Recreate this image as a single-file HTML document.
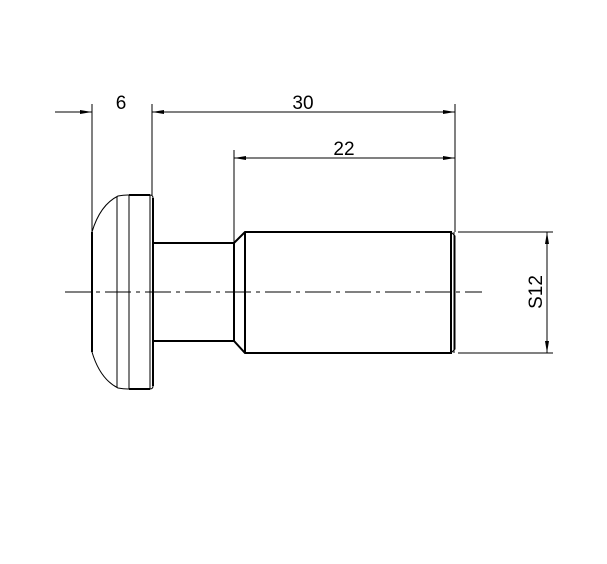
<!DOCTYPE html><html><head><style>body{margin:0;background:#fff}</style></head><body>
<svg width="607" height="559" viewBox="0 0 607 559" xmlns="http://www.w3.org/2000/svg" font-family="Liberation Sans, sans-serif">
<defs><marker id="a" viewBox="0 0 12 4" refX="12" refY="2" markerWidth="12" markerHeight="4" orient="auto-start-reverse" markerUnits="userSpaceOnUse"><path d="M0,0L12,2L0,4z" fill="#000"/></marker></defs>
<g stroke="#000" fill="none">
<!-- extension lines -->
<g stroke-width="1">
<line x1="92" y1="104" x2="92" y2="232"/>
<line x1="152" y1="104" x2="152" y2="195"/>
<line x1="234" y1="150" x2="234" y2="243"/>
<line x1="455" y1="104" x2="455" y2="232"/>
<line x1="458" y1="232" x2="553" y2="232"/>
<line x1="458" y1="353" x2="553" y2="353"/>
<!-- dims -->
<line x1="55" y1="112" x2="92" y2="112" marker-end="url(#a)"/>
<line x1="152" y1="112" x2="172" y2="112" marker-start="url(#a)"/>
<line x1="152" y1="112" x2="455" y2="112" marker-end="url(#a)"/>
<line x1="234" y1="158" x2="455" y2="158" marker-start="url(#a)" marker-end="url(#a)"/>
<line x1="547" y1="232" x2="547" y2="353" marker-start="url(#a)" marker-end="url(#a)"/>
<!-- centre line -->
<line x1="65" y1="292" x2="482" y2="292" stroke-dasharray="26,5,4,5"/>
<!-- head inner lines -->
<line x1="117" y1="197" x2="117" y2="387"/>
<line x1="129" y1="195" x2="129" y2="389"/>
<line x1="150" y1="195" x2="150" y2="389"/>
<line x1="454" y1="232" x2="454" y2="353"/>
</g>
<g stroke-width="2">
<path d="M92,232 Q100,205 118,196 Q124,195 129,195 L150,195 Q153,195 153,198 L153,386 Q153,389 150,389 L129,389 Q124,389 118,388 Q100,379 92,352 Z" stroke-width="1"/>
<line x1="92" y1="232" x2="92" y2="352"/>
<line x1="129" y1="195" x2="150" y2="195"/><line x1="129" y1="389" x2="150" y2="389"/>
<line x1="153" y1="198" x2="153" y2="386"/>
<path d="M153,243 L234,243 L245,232 L451,232 L451,353 L245,353 L234,341 L153,341"/>
<line x1="234" y1="243" x2="234" y2="341"/>
<line x1="245" y1="232" x2="245" y2="353"/>
</g>
<path d="M451,232 L455,236 L455,349 L451,353" stroke-width="1"/>
</g>
<g font-size="19" fill="#000" text-anchor="middle">
<text x="121" y="109">6</text>
<text x="303" y="109">30</text>
<text x="344" y="155">22</text>
<text transform="translate(542,292) rotate(-90)">S12</text>
</g>
</svg></body></html>
